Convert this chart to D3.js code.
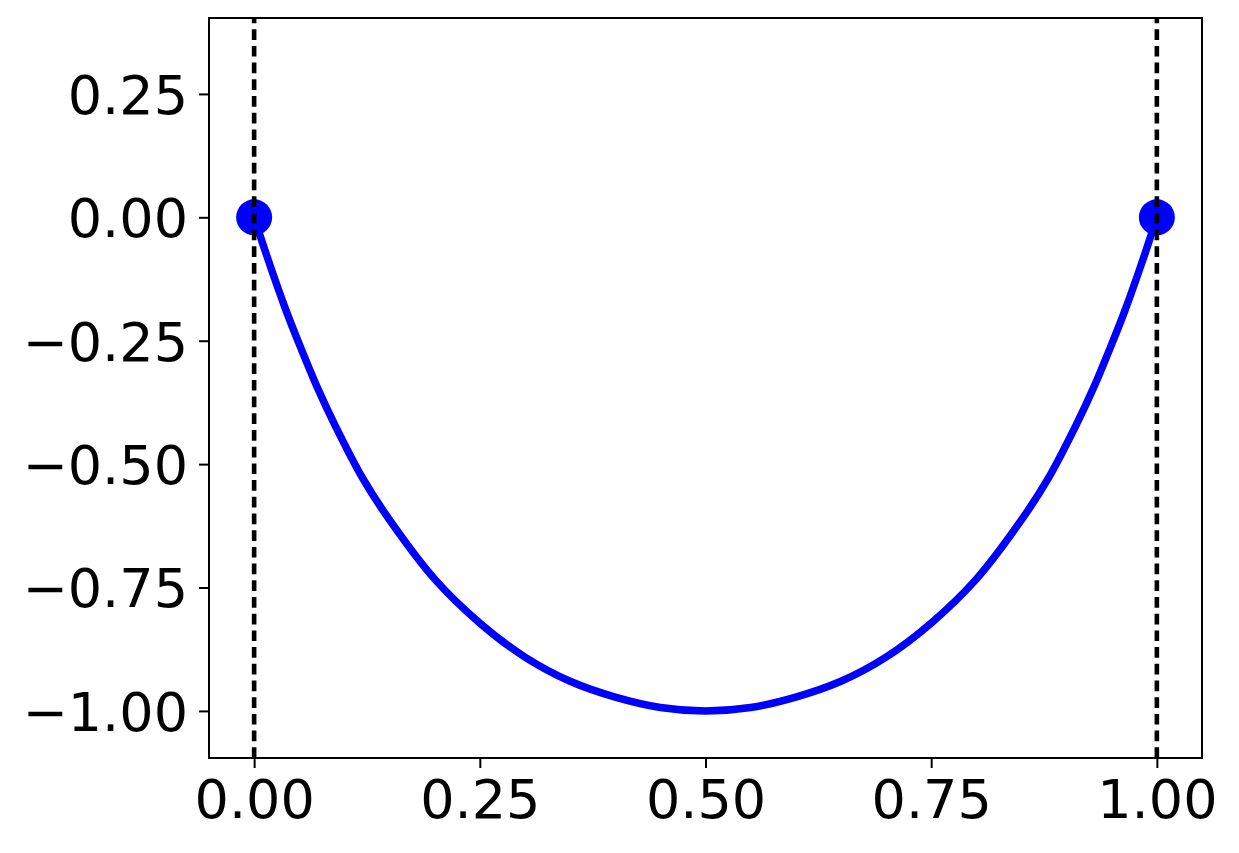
<!DOCTYPE html>
<html>
<head>
<meta charset="utf-8">
<script src="https://cdn.jsdelivr.net/npm/d3@7"></script>
<style>
  html, body { margin: 0; padding: 0; background: #fff; }
  text { font-family: "DejaVu Sans", sans-serif; }
</style>
</head>
<body>
<svg id="chart" width="1239" height="853"></svg>
<script>
// Data
const curveX = [0, 0.01, 0.02, 0.035, 0.05, 0.07, 0.09, 0.12, 0.15, 0.2, 0.25, 0.3, 0.35, 0.4, 0.45, 0.5,
                0.55, 0.6, 0.65, 0.7, 0.75, 0.8, 0.85, 0.88, 0.91, 0.93, 0.95, 0.965, 0.98, 0.99, 1];
const curveY = [0, -0.056, -0.110, -0.187, -0.257, -0.345, -0.423, -0.528, -0.613, -0.733, -0.822, -0.891, -0.940, -0.972, -0.993, -1.0,
                -0.993, -0.972, -0.940, -0.891, -0.822, -0.733, -0.613, -0.528, -0.423, -0.345, -0.257, -0.187, -0.110, -0.056, 0];
const endpointX = [0, 1];
const endpointY = [0, 0];
const boundaryX = [0, 1];
const xTicks = [0, 0.25, 0.5, 0.75, 1.0];
const yTicks = [0.25, 0, -0.25, -0.5, -0.75, -1.0];
const xDomain = [-0.05, 1.05];
const yDomain = [-1.0954, 0.4038];

(function () {
const svg = d3.select("#chart");
const pL = 209, pR = 1202, pT = 18, pB = 758;

const x = d3.scaleLinear().domain(xDomain).range([pL, pR]);
const y = d3.scaleLinear().domain(yDomain).range([pB, pT]);
const fmt = d3.format(".2f");

// Curve
const pts = curveX.map((v, i) => [v, curveY[i]]);
svg.append("path")
  .datum(pts)
  .attr("fill", "none")
  .attr("stroke", "#0000ff")
  .attr("stroke-width", 7.5)
  .attr("stroke-linejoin", "round")
  .attr("stroke-linecap", "butt")
  .attr("d", d3.line().x(d => x(d[0])).y(d => y(d[1])).curve(d3.curveCatmullRom.alpha(0.5)));

// Endpoint markers
svg.selectAll("circle.end")
  .data(endpointX.map((v, i) => [v, endpointY[i]]))
  .enter().append("circle")
  .attr("class", "end")
  .attr("cx", d => x(d[0]))
  .attr("cy", d => y(d[1]))
  .attr("r", 18)
  .attr("fill", "#0000ff");

// Dashed vertical lines
svg.selectAll("line.vline")
  .data(boundaryX)
  .enter().append("line")
  .attr("class", "vline")
  .attr("x1", d => x(d)).attr("x2", d => x(d))
  .attr("y1", pB).attr("y2", pT)
  .attr("stroke", "#000")
  .attr("stroke-width", 4.6)
  .attr("stroke-dasharray", "10.7,6");

// Axes
const xAxis = d3.axisBottom(x).tickValues(xTicks).tickFormat(fmt).tickSize(10).tickPadding(12);
const yAxis = d3.axisLeft(y).tickValues(yTicks).tickFormat(fmt).tickSize(10).tickPadding(11);

const gx = svg.append("g").attr("transform", `translate(0,${pB})`).call(xAxis);
const gy = svg.append("g").attr("transform", `translate(${pL},0)`).call(yAxis);
[gx, gy].forEach(g => {
  g.select(".domain").remove();
  g.selectAll(".tick line").attr("stroke", "#000").attr("stroke-width", 2);
  g.selectAll(".tick text").attr("fill", "#000").style("font-size", "54px")
    .style("font-family", "'DejaVu Sans', sans-serif");
});
gy.selectAll(".tick text").attr("dy", "0.36em");

// Frame
svg.append("rect")
  .attr("x", pL).attr("y", pT)
  .attr("width", pR - pL).attr("height", pB - pT)
  .attr("fill", "none").attr("stroke", "#000").attr("stroke-width", 2);
})();
</script>
</body>
</html>
